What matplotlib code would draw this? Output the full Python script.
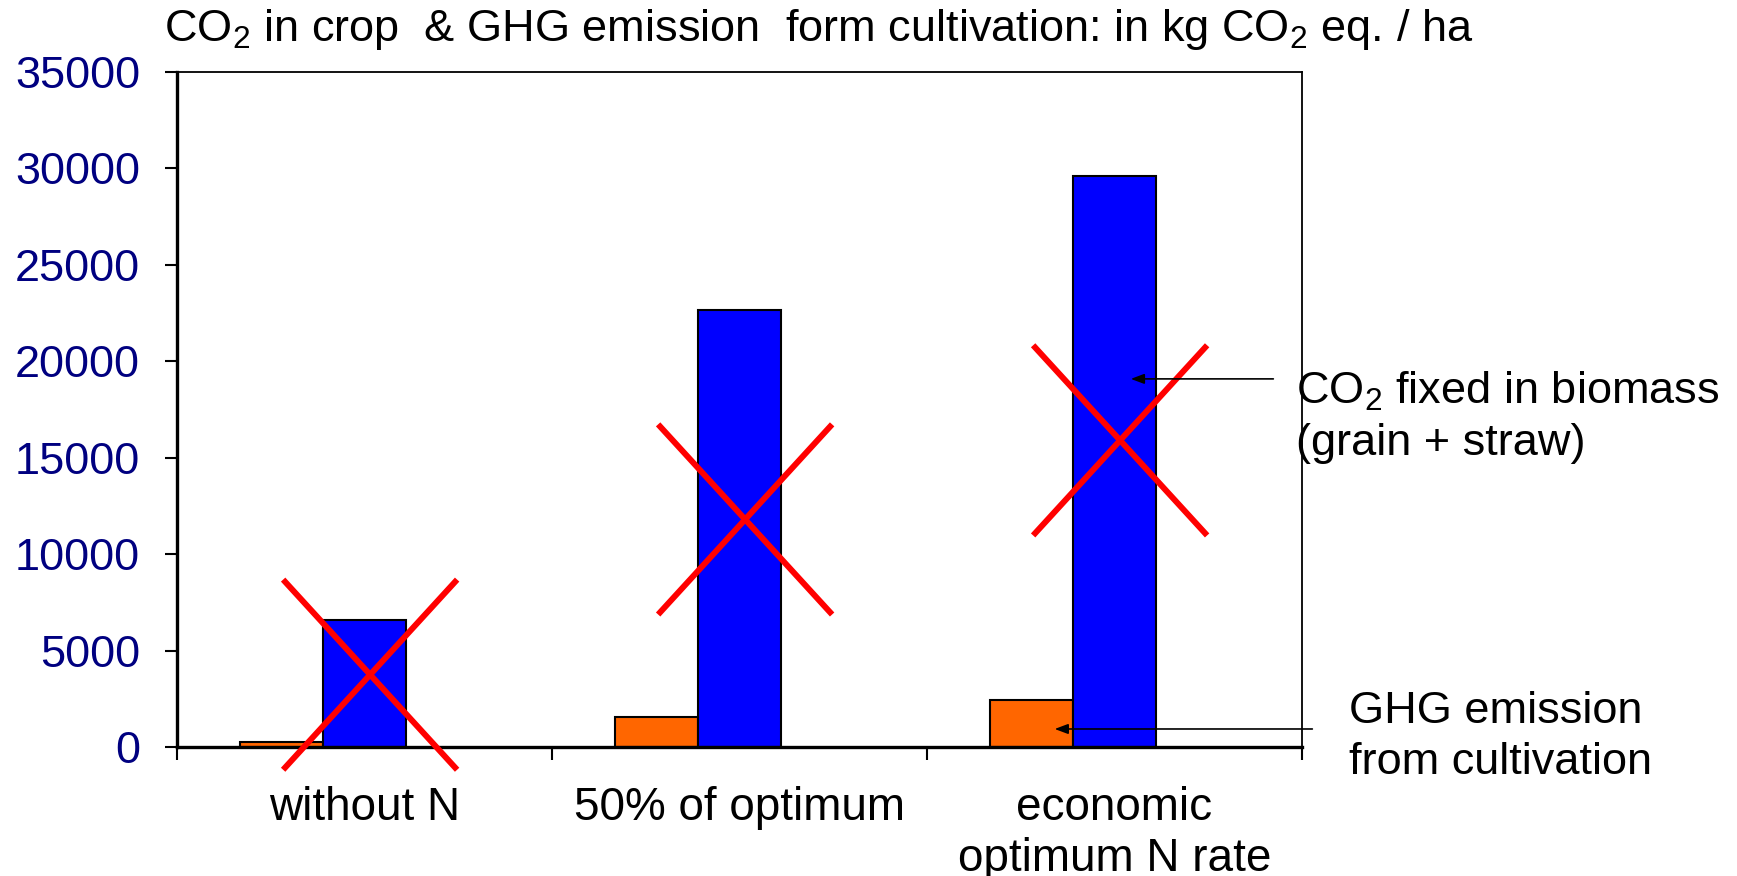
import matplotlib
matplotlib.use("Agg")
import matplotlib.pyplot as plt
import numpy as np

plt.rcParams['font.family'] = ['Liberation Sans', 'DejaVu Sans']
plt.rcParams['mathtext.fontset'] = 'custom'
plt.rcParams['mathtext.rm'] = 'Liberation Sans'
plt.rcParams['mathtext.it'] = 'Liberation Sans'
plt.rcParams['mathtext.bf'] = 'Liberation Sans'

# ---- data ----
categories = ["without N", "50% of optimum", "economic\noptimum N rate"]
ghg_emission = [250, 1550, 2450]          # GHG emission from cultivation
co2_fixed = [6600, 22650, 29600]          # CO2 fixed in biomass
yticks = [0, 5000, 10000, 15000, 20000, 25000, 30000, 35000]
cross_center_y = [3750, 11800, 15900]     # red crosses (annotation)

title = r"CO$_2$ in crop  & GHG emission  form cultivation: in kg CO$_2$ eq. / ha"
label_co2 = "CO$_2$ fixed in biomass\n(grain + straw)"
label_ghg = "GHG emission\nfrom cultivation"

fig = plt.figure(figsize=(17.37, 8.76), dpi=100)
ax = fig.add_axes([177/1737, 1-747/876, (1302-177)/1737, (747-72)/876])

x = np.arange(len(categories))
w = 0.222
ax.bar(x - w, ghg_emission, width=w, color="#FF6600", edgecolor="black", linewidth=1.5, zorder=2)
ax.bar(x, co2_fixed, width=w, color="#0000FF", edgecolor="black", linewidth=1.5, zorder=2)

ax.set_xlim(-0.5, 2.5)
ax.set_ylim(0, 35000)
ax.set_yticks(yticks)
ax.set_yticklabels([str(v) for v in yticks], color="#000080", fontsize=32.5)
ax.tick_params(axis='y', direction='out', length=9, width=1.5, pad=17.5)

ax.set_xticks([-0.5, 0.5, 1.5, 2.5])
ax.set_xticklabels([])
ax.tick_params(axis='x', which='major', direction='out', length=9, width=1.5)
ax.set_xticks(x, minor=True)
ax.set_xticklabels(categories, minor=True, fontsize=33, linespacing=1.22)
ax.tick_params(axis='x', which='minor', length=0, pad=28)

for side in ['left', 'bottom']:
    ax.spines[side].set_linewidth(2.4)
for side in ['top', 'right']:
    ax.spines[side].set_linewidth(1.3)

# red crosses
hw, hh = 0.232, 4930
for xi, yc in zip(x, cross_center_y):
    xc = xi + 0.015
    ax.plot([xc - hw, xc + hw], [yc + hh, yc - hh], color="red", lw=4.3, clip_on=False, zorder=5, solid_capstyle='butt')
    ax.plot([xc - hw, xc + hw], [yc - hh, yc + hh], color="red", lw=4.3, clip_on=False, zorder=5, solid_capstyle='butt')

# arrows
ax.annotate("", xy=(2.036, 19087), xytext=(2.431, 19087),
            arrowprops=dict(arrowstyle="-|>,head_length=0.8,head_width=0.3", color="black", lw=1.2),
            annotation_clip=False, zorder=6)
ax.annotate("", xy=(1.833, 934), xytext=(2.535, 934),
            arrowprops=dict(arrowstyle="-|>,head_length=0.8,head_width=0.3", color="black", lw=1.2),
            annotation_clip=False, zorder=6)

fig.text(1296/1737, 1-417/876, label_co2, fontsize=32.5, ha='left', va='center', linespacing=1.3)
fig.text(1349/1737, 1-737/876, label_ghg, fontsize=32.5, ha='left', va='center', linespacing=1.3)

fig.text(164/1737, 1-30/876, title, fontsize=32.5, ha='left', va='center')

fig.savefig("out.png", dpi=100)
